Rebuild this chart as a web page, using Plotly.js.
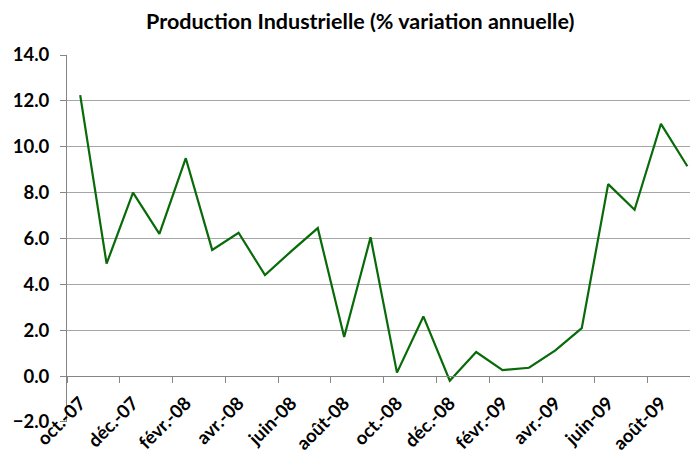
<!DOCTYPE html>
<html>
<head>
<meta charset="utf-8">
<script src="https://cdn.plot.ly/plotly-3.0.1.min.js"></script>
<style>html,body{margin:0;padding:0;background:#fff;}#chart{width:690px;height:450px;}</style>
</head>
<body>
<div id="chart"></div>
<script>
var months = ["oct.-07","nov.-07","déc.-07","janv.-08","févr.-08","mars-08","avr.-08","mai-08","juin-08","juil.-08","août-08","sept.-08",
              "oct.-08","nov.-08","déc.-08","janv.-09","févr.-09","mars-09","avr.-09","mai-09","juin-09","juil.-09","août-09","sept.-09"];
var production = [12.25, 4.9, 8.0, 6.2, 9.5, 5.5, 6.25, 4.4, 5.45, 6.45, 1.7, 6.05,
                  0.15, 2.6, -0.2, 1.05, 0.26, 0.36, 1.12, 2.09, 8.37, 7.25, 11.0, 9.15];
var yTicks = [-2, 0, 2, 4, 6, 8, 10, 12, 14];

var trace = {
  x: months, y: production, type: 'scatter', mode: 'lines',
  line: {color: '#086a08', width: 2.2},
  hoverinfo: 'skip'
};
var layout = {
  width: 690, height: 450,
  margin: {l: 67, r: 0, t: 55, b: 28},
  paper_bgcolor: '#fff', plot_bgcolor: '#fff',
  showlegend: false,
  title: {text: 'Production Industrielle (% variation annuelle)',
          font: {family: 'Lato', size: 21.5, color: '#000', weight: 'bold'},
          x: 0.522, xanchor: 'center', xref: 'container', y: 0.953, yanchor: 'middle', yref: 'container'},
  xaxis: {
    type: 'category', range: [-0.5, 23.1],
    anchor: 'free', position: 0.125,
    showline: true, linecolor: '#868686', linewidth: 1,
    ticks: 'outside', ticklen: 6, tickcolor: '#868686', tickson: 'boundaries',
    ticklabelstandoff: 8,
    dtick: 2, tickangle: -45, showgrid: false, zeroline: false,
    tickfont: {family: 'Lato', size: 18.5, color: '#000', weight: 'bold'}
  },
  yaxis: {
    range: [-2.004, 14], tickvals: yTicks, tickformat: '.1f',
    showline: true, linecolor: '#868686', linewidth: 1,
    ticks: 'outside', ticklen: 6, tickcolor: '#868686',
    ticklabelstandoff: 7,
    showgrid: true, gridcolor: '#a6a6a6', gridwidth: 1, zeroline: false,
    tickfont: {family: 'Lato', size: 18.5, color: '#000', weight: 'bold'}
  }
};
Plotly.newPlot('chart', [trace], layout, {staticPlot: true, displayModeBar: false});
</script>
</body>
</html>
